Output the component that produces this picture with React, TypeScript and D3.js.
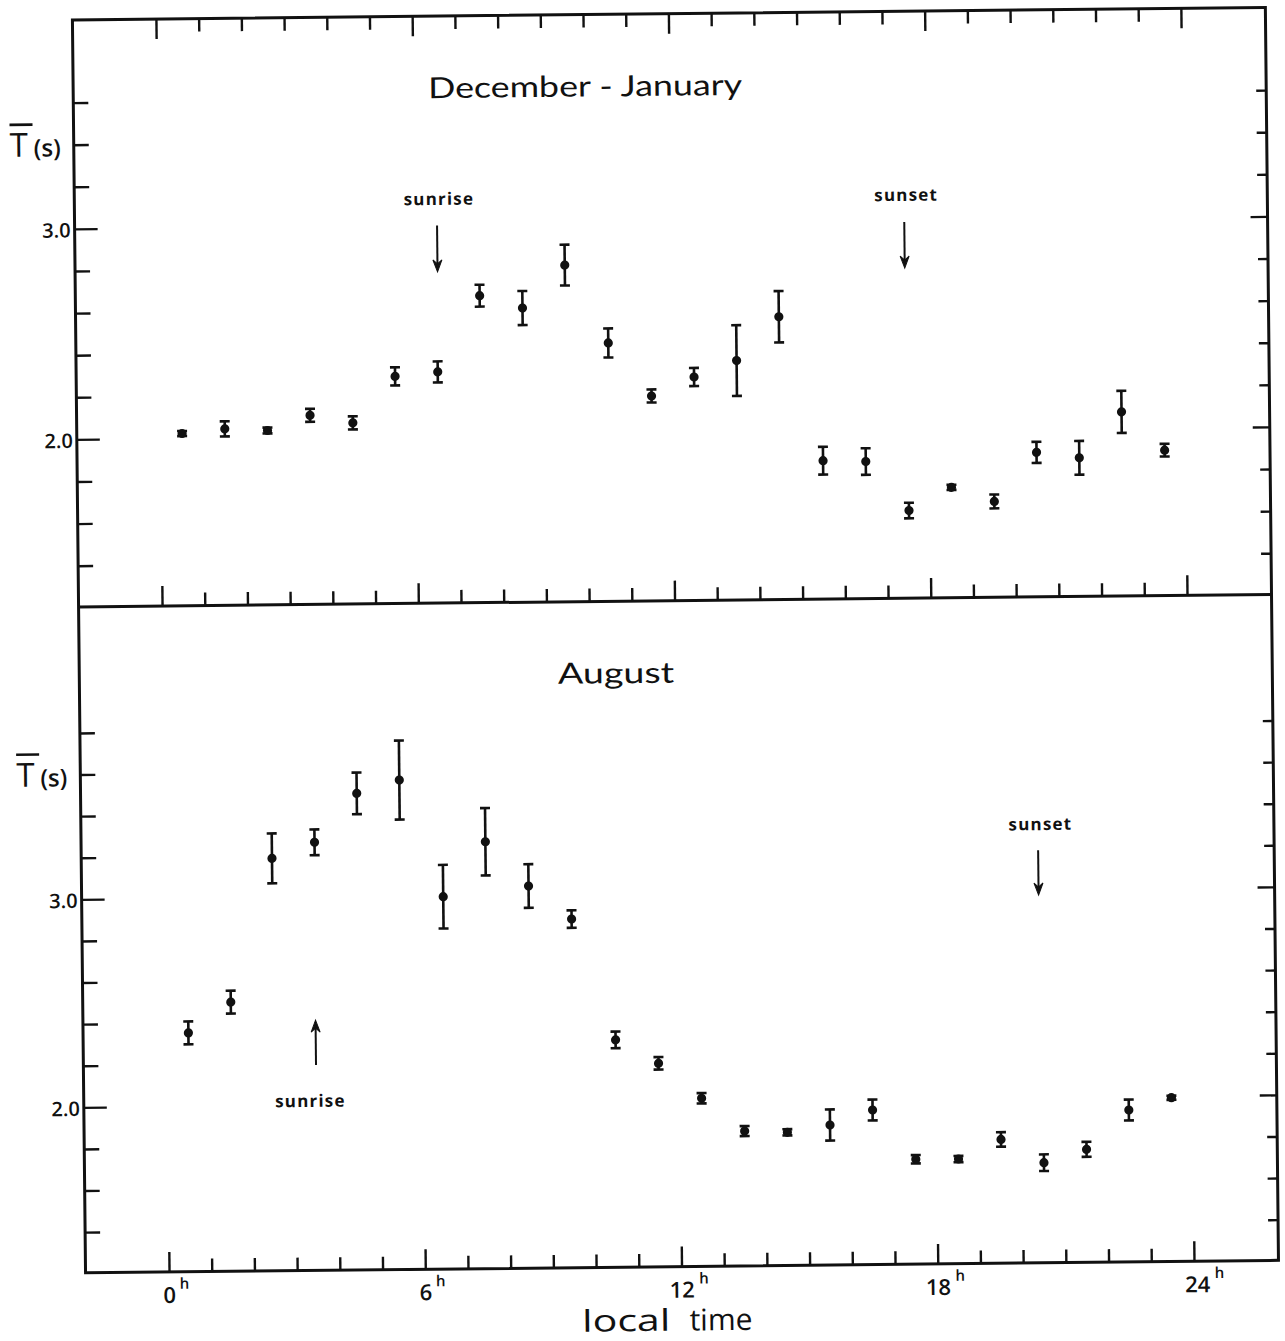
import React from "react";
import * as d3 from "d3";

// ---- data (hours of local time, mean period T in seconds, error half-width) ----
const hours = [0.5, 1.5, 2.5, 3.5, 4.5, 5.5, 6.5, 7.5, 8.5, 9.5, 10.5, 11.5, 12.5, 13.5, 14.5, 15.5, 16.5, 17.5, 18.5, 19.5, 20.5, 21.5, 22.5, 23.5];

const decJanMean = [2.025, 2.045, 2.035, 2.105, 2.067, 2.286, 2.305, 2.665, 2.604, 2.806, 2.434, 2.18, 2.268, 2.344, 2.55, 1.864, 1.858, 1.623, 1.731, 1.662, 1.893, 1.865, 2.081, 1.897];
const decJanErr = [0.012, 0.036, 0.014, 0.031, 0.031, 0.043, 0.05, 0.052, 0.081, 0.097, 0.069, 0.031, 0.043, 0.168, 0.122, 0.066, 0.063, 0.037, 0.012, 0.033, 0.05, 0.08, 0.1, 0.03];

const augustMean = [2.355, 2.501, 3.19, 3.265, 3.498, 3.56, 2.997, 3.259, 3.044, 2.883, 2.3, 2.185, 2.015, 1.855, 1.847, 1.88, 1.95, 1.711, 1.71, 1.802, 1.688, 1.75, 1.937, 1.994];
const augustErr = [0.055, 0.055, 0.12, 0.062, 0.1, 0.19, 0.153, 0.162, 0.105, 0.042, 0.04, 0.03, 0.025, 0.024, 0.015, 0.075, 0.05, 0.02, 0.015, 0.035, 0.04, 0.036, 0.05, 0.01];

const xTicks = [0, 1, 2, 3, 4, 5, 6, 7, 8, 9, 10, 11, 12, 13, 14, 15, 16, 17, 18, 19, 20, 21, 22, 23, 24];
const xMajor = [0, 6, 12, 18, 24];
const yTicksTop = [1.4, 1.6, 1.8, 2.0, 2.2, 2.4, 2.6, 2.8, 3.0, 3.2, 3.4, 3.6];
const yTicksBottom = [1.4, 1.6, 1.8, 2.0, 2.2, 2.4, 2.6, 2.8, 3.0, 3.2, 3.4, 3.6, 3.8];
const yLabels = [2.0, 3.0];

const topNotes = [
  { text: "sunrise", tx: 6.57, ty: 3.098, ax: 6.52, a0: 3.0, a1: 2.78 },
  { text: "sunset", tx: 17.51, ty: 3.094, ax: 17.46, a0: 2.994, a1: 2.775 },
];
const bottomNotes = [
  { text: "sunset", tx: 20.5, ty: 3.287, ax: 20.44, a0: 3.19, a1: 2.975 },
  { text: "sunrise", tx: 3.34, ty: 1.993, ax: 3.48, a0: 2.194, a1: 2.41 },
];

// ---- layout ----
const W = 1285;
const H = 1341;
const left = 79;
const right = 1272;
const top = 14;
const mid = 601;
const bottom = 1267;

const x = d3.scaleLinear().domain([0, 24]).range([163, 1188]);
const yTop = d3.scaleLinear().domain([2, 3]).range([434, 223.5]);
const yBot = d3.scaleLinear().domain([2, 3]).range([1102, 894]);

const panels = [
  { title: "December - January", titleX: 10.02, titleW: 314, y: yTop, panelTop: top, mean: decJanMean, err: decJanErr, ticks: yTicksTop, labelAt: 3.4, notes: topNotes },
  { title: "August", titleX: 10.6, titleW: 116, y: yBot, panelTop: mid, mean: augustMean, err: augustErr, ticks: yTicksBottom, labelAt: 3.6, notes: bottomNotes },
];

const ink = "#111";
const font = "'Open Sans', 'DejaVu Sans', sans-serif";

function ErrorPoint({ cx, cy, y0, y1 }: { cx: number; cy: number; y0: number; y1: number }) {
  const cw = 5;
  return (
    <g>
      <line x1={cx} x2={cx} y1={y0} y2={y1} stroke={ink} strokeWidth={2.6} />
      <line x1={cx - cw} x2={cx + cw} y1={y0} y2={y0} stroke={ink} strokeWidth={2.6} />
      <line x1={cx - cw} x2={cx + cw} y1={y1} y2={y1} stroke={ink} strokeWidth={2.6} />
      <circle cx={cx} cy={cy} r={4.6} fill={ink} />
    </g>
  );
}

function Arrow({ px, from, to }: { px: number; from: number; to: number }) {
  const dir = to > from ? 1 : -1;
  const head = `M${px},${to} L${px - 4.5},${to - dir * 12} L${px},${to - dir * 8} L${px + 4.5},${to - dir * 12} Z`;
  return (
    <g>
      <line x1={px} x2={px} y1={from} y2={to - dir * 6} stroke={ink} strokeWidth={2} />
      <path d={head} fill={ink} stroke={ink} strokeWidth={1} />
    </g>
  );
}

export default function App() {
  return (
    <svg width={W} height={H} style={{ position: "absolute", left: 0, top: 0, background: "#fff" }}>
      <rect x={0} y={0} width={W} height={H} fill="#fff" />
      <g transform="rotate(-0.6 640 645)">
        {/* frame */}
        <rect x={left} y={top} width={right - left} height={bottom - top} fill="none" stroke={ink} strokeWidth={3} />
        <line x1={left} x2={right} y1={mid} y2={mid} stroke={ink} strokeWidth={3} />

        {/* x ticks: top edge (down), divider (up), bottom (up) */}
        {xTicks.map((h) => {
          const major = xMajor.includes(h);
          const len = major ? 20 : 13;
          const px = x(h);
          return (
            <g key={"xt" + h}>
              <line x1={px} x2={px} y1={top} y2={top + len} stroke={ink} strokeWidth={2.4} />
              <line x1={px} x2={px} y1={mid} y2={mid - len} stroke={ink} strokeWidth={2.4} />
              <line x1={px} x2={px} y1={bottom} y2={bottom - len} stroke={ink} strokeWidth={2.4} />
            </g>
          );
        })}

        {/* x labels */}
        {xMajor.map((h) => {
          const px = x(h) + (h === 24 ? 3 : 0);
          const s = String(h);
          const half = s.length * 7 + 1;
          return (
            <g key={"xl" + h} fontFamily={font} fill={ink} fontWeight={600}>
              <text x={px} y={bottom + 31} fontSize={22} textAnchor="middle">
                {s}
              </text>
              <text x={px + half + 2} y={bottom + 17} fontSize={15}>
                h
              </text>
            </g>
          );
        })}
        <g fontFamily={font} fontSize={30} fill={ink}>
          <text x={x(10.68)} y={bottom + 64} textAnchor="middle" textLength={88} lengthAdjust="spacingAndGlyphs">local</text>
          <text x={x(12.9)} y={bottom + 64} textAnchor="middle">time</text>
        </g>

        {panels.map((p, pi) => (
          <g key={"p" + pi}>
            {/* y ticks */}
            {p.ticks.map((v) => {
              const major = yLabels.some((l) => Math.abs(l - v) < 1e-6);
              const py = p.y(v);
              return (
                <g key={"yt" + v}>
                  <line x1={left} x2={left + (major ? 23 : 15)} y1={py} y2={py} stroke={ink} strokeWidth={2.4} />
                  <line x1={right} x2={right - (major ? 17 : 10)} y1={py} y2={py} stroke={ink} strokeWidth={2.4} />
                </g>
              );
            })}
            {yLabels.map((v) => (
              <text key={"yl" + v} x={left - 4} y={p.y(v) + 8} fontFamily={font} fontSize={20} fontWeight={600} fill={ink} textAnchor="end">
                {v.toFixed(1)}
              </text>
            ))}
            {/* T̄(s) axis label */}
            <g fontFamily={font} fill={ink}>
              <text x={15} y={p.y(p.labelAt) + 11} fontSize={33} fontWeight={500}>T</text>
              <line x1={15} x2={38} y1={p.y(p.labelAt) - 21} y2={p.y(p.labelAt) - 21} stroke={ink} strokeWidth={2.6} />
              <text x={39} y={p.y(p.labelAt) + 11} fontSize={24} fontWeight={600}>(s)</text>
            </g>
            {/* title */}
            <text x={x(p.titleX)} y={p.panelTop + 82} fontFamily="Lato, 'Open Sans', sans-serif" fontSize={29} fill={ink} textAnchor="middle" textLength={p.titleW} lengthAdjust="spacingAndGlyphs">
              {p.title}
            </text>
            {/* annotations */}
            {p.notes.map((n, ni) => (
              <g key={"n" + ni}>
                <text x={x(n.tx)} y={p.y(n.ty)} fontFamily={font} fontSize={17} fontWeight={700} letterSpacing={1.2} fill={ink} textAnchor="middle">
                  {n.text}
                </text>
                <Arrow px={x(n.ax)} from={p.y(n.a0)} to={p.y(n.a1)} />
              </g>
            ))}
            {/* data */}
            {hours.map((h, i) => (
              <ErrorPoint key={"d" + i} cx={x(h)} cy={p.y(p.mean[i])} y0={p.y(p.mean[i] + p.err[i])} y1={p.y(p.mean[i] - p.err[i])} />
            ))}
          </g>
        ))}
      </g>
    </svg>
  );
}
